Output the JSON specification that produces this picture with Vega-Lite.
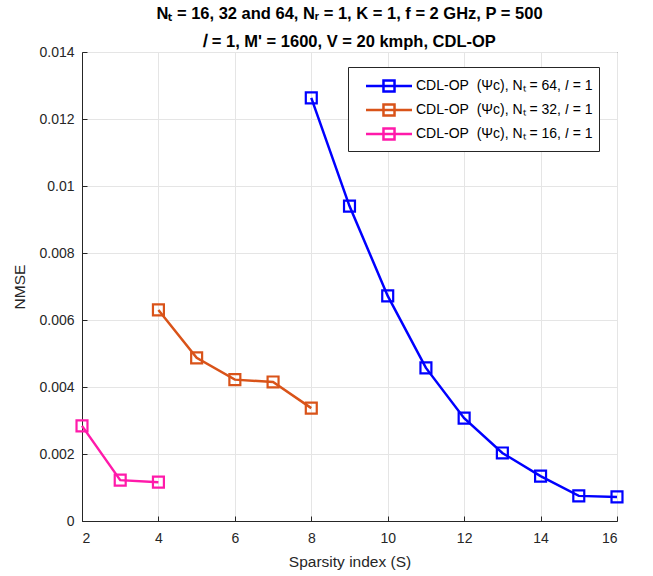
{
  "$schema": "https://vega.github.io/schema/vega-lite/v6.json",
  "width": 535,
  "height": 469,
  "autosize": {"type": "none"},
  "padding": {"left": 82, "top": 52, "right": 36, "bottom": 55},
  "background": "white",
  "title": {
    "text": ["Nₜ = 16, 32 and 64, Nᵣ = 1, K = 1, f = 2 GHz, P = 500", "𝑙 = 1, M' = 1600, V = 20 kmph, CDL-OP"],
    "font": "Liberation Sans",
    "fontSize": 16.5,
    "fontWeight": "bold",
    "color": "#000000",
    "lineHeight": 28,
    "offset": -5,
    "anchor": "middle"
  },
  "config": {
    "view": {"stroke": "#262626", "strokeWidth": 1},
    "axis": {
      "labelFont": "Liberation Sans",
      "labelFontSize": 14,
      "labelColor": "#262626",
      "titleFont": "Liberation Sans",
      "titleFontSize": 15.5,
      "titleFontWeight": "normal",
      "titleColor": "#262626",
      "domainColor": "#262626",
      "tickColor": "#262626",
      "gridColor": "#e5e5e5",
      "gridWidth": 1
    }
  },
  "data": {
    "values": [
      {"series": "CDL-OP\u00a0\u00a0(Ψc), Nₜ = 64, 𝑙 = 1", "S": 8, "nmse": 0.01263},
      {"series": "CDL-OP\u00a0\u00a0(Ψc), Nₜ = 64, 𝑙 = 1", "S": 9, "nmse": 0.00940},
      {"series": "CDL-OP\u00a0\u00a0(Ψc), Nₜ = 64, 𝑙 = 1", "S": 10, "nmse": 0.00672},
      {"series": "CDL-OP\u00a0\u00a0(Ψc), Nₜ = 64, 𝑙 = 1", "S": 11, "nmse": 0.00457},
      {"series": "CDL-OP\u00a0\u00a0(Ψc), Nₜ = 64, 𝑙 = 1", "S": 12, "nmse": 0.00307},
      {"series": "CDL-OP\u00a0\u00a0(Ψc), Nₜ = 64, 𝑙 = 1", "S": 13, "nmse": 0.00203},
      {"series": "CDL-OP\u00a0\u00a0(Ψc), Nₜ = 64, 𝑙 = 1", "S": 14, "nmse": 0.00134},
      {"series": "CDL-OP\u00a0\u00a0(Ψc), Nₜ = 64, 𝑙 = 1", "S": 15, "nmse": 0.00075},
      {"series": "CDL-OP\u00a0\u00a0(Ψc), Nₜ = 64, 𝑙 = 1", "S": 16, "nmse": 0.00072},
      {"series": "CDL-OP\u00a0\u00a0(Ψc), Nₜ = 32, 𝑙 = 1", "S": 4, "nmse": 0.00630},
      {"series": "CDL-OP\u00a0\u00a0(Ψc), Nₜ = 32, 𝑙 = 1", "S": 5, "nmse": 0.00487},
      {"series": "CDL-OP\u00a0\u00a0(Ψc), Nₜ = 32, 𝑙 = 1", "S": 6, "nmse": 0.00422},
      {"series": "CDL-OP\u00a0\u00a0(Ψc), Nₜ = 32, 𝑙 = 1", "S": 7, "nmse": 0.00415},
      {"series": "CDL-OP\u00a0\u00a0(Ψc), Nₜ = 32, 𝑙 = 1", "S": 8, "nmse": 0.00337},
      {"series": "CDL-OP\u00a0\u00a0(Ψc), Nₜ = 16, 𝑙 = 1", "S": 2, "nmse": 0.00284},
      {"series": "CDL-OP\u00a0\u00a0(Ψc), Nₜ = 16, 𝑙 = 1", "S": 3, "nmse": 0.00122},
      {"series": "CDL-OP\u00a0\u00a0(Ψc), Nₜ = 16, 𝑙 = 1", "S": 4, "nmse": 0.00116}
    ]
  },
  "encoding": {
    "x": {
      "field": "S", "type": "quantitative",
      "scale": {"domain": [2, 16], "nice": false},
      "axis": {"values": [2, 4, 6, 8, 10, 12, 14, 16], "title": "Sparsity index (S)", "grid": true, "tickSize": -5, "labelPadding": 15, "titlePadding": 9}
    },
    "y": {
      "field": "nmse", "type": "quantitative",
      "scale": {"domain": [0, 0.014], "nice": false},
      "axis": {"values": [0, 0.002, 0.004, 0.006, 0.008, 0.01, 0.012, 0.014], "format": "~g", "title": "NMSE", "grid": true, "tickSize": -5, "labelPadding": 13, "titlePadding": 11}
    },
    "color": {
      "field": "series", "type": "nominal",
      "scale": {
        "domain": ["CDL-OP\u00a0\u00a0(Ψc), Nₜ = 64, 𝑙 = 1", "CDL-OP\u00a0\u00a0(Ψc), Nₜ = 32, 𝑙 = 1", "CDL-OP\u00a0\u00a0(Ψc), Nₜ = 16, 𝑙 = 1"],
        "range": ["#0000ff", "#d95319", "#ff1aaa"]
      },
      "legend": {
        "title": null,
        "orient": "none",
        "legendX": 266,
        "legendY": 15,
        "padding": 6,
        "strokeColor": "#262626",
        "fillColor": "white",
        "labelFont": "Liberation Sans",
        "labelFontSize": 14,
        "labelColor": "#000000",
        "labelLimit": 400,
        "labelExpr": "datum.label + '\u00a0\u00a0\u00a0\u00a0'",
        "symbolType": "M-2,0H2M-0.48,-0.48H0.48V0.48H-0.48Z",
        "symbolSize": 529,
        "symbolStrokeWidth": 2.5,
        "symbolFillColor": "transparent",
        "symbolOffset": 22,
        "rowPadding": 0,
        "labelOffset": 14
      }
    }
  },
  "layer": [
    {"mark": {"type": "line", "strokeWidth": 2.5}},
    {"mark": {"type": "point", "shape": "square", "filled": false, "size": 120, "strokeWidth": 2.2, "opacity": 1}}
  ]
}
